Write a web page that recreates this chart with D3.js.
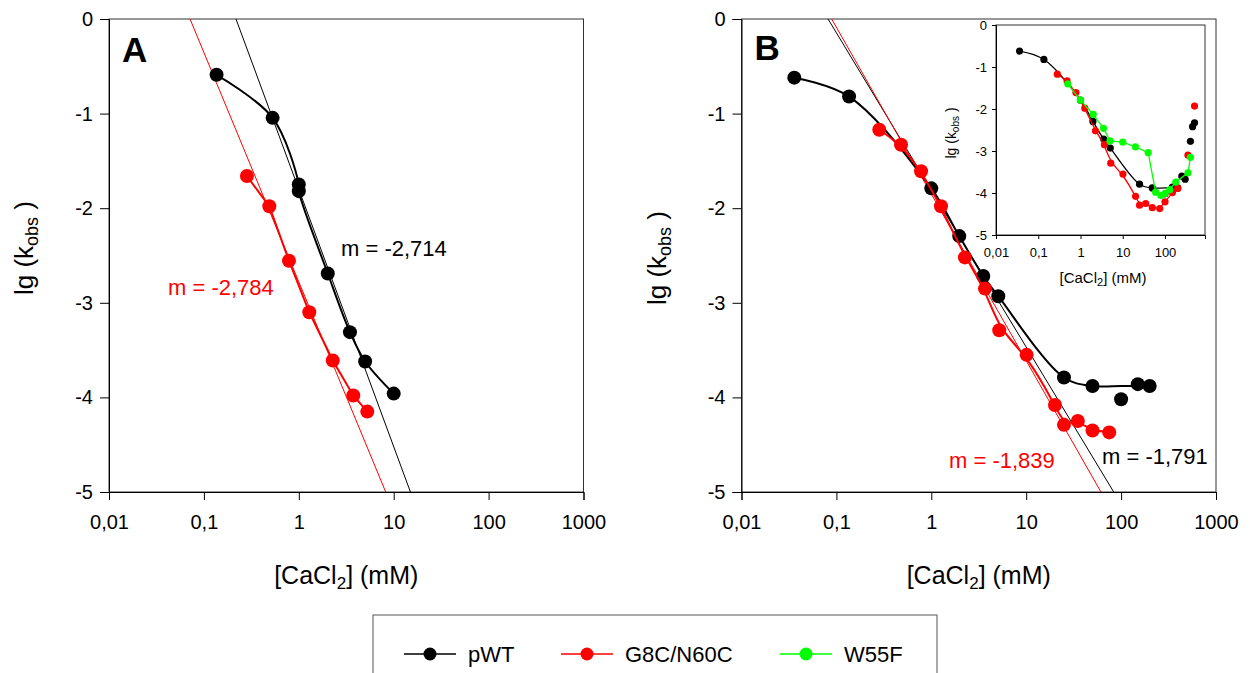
<!DOCTYPE html>
<html>
<head>
<meta charset="utf-8">
<script src="https://cdn.jsdelivr.net/npm/d3@7"></script>
<style>
    body { margin: 0; background: #fff; }
    svg { font-family: "Liberation Sans", Arial, sans-serif; }
</style>
</head>
<body>
<svg id="fig" width="1250" height="673"></svg>
<script>
// valores (lg kobs frente a [CaCl2] en mM)

const xTicks = [0.01, 0.1, 1, 10, 100, 1000];
const yTicks = [0, -1, -2, -3, -4, -5];
const insetXTicks = [0.01, 0.1, 1, 10, 100];

const seriesNames = ["pWT", "G8C/N60C", "W55F"];
const seriesColors = ["#000000", "#ff0000", "#00ff00"];

// panel A
const concA_pWT = [0.136, 0.53, 1.0, 1.0, 2.02, 3.46, 5.0, 10];
const lgA_pWT = [-0.59, -1.045, -1.75, -1.82, -2.69, -3.31, -3.62, -3.96];
const concA_G8C = [0.284, 0.489, 0.788, 1.29, 2.28, 3.75, 5.27];
const lgA_G8C = [-1.66, -1.98, -2.555, -3.10, -3.61, -3.98, -4.15];

// panel B
const concB_pWT = [0.036, 0.136, 1.0, 1.97, 3.53, 5.08, 25, 50, 100, 150, 200];
const lgB_pWT = [-0.62, -0.82, -1.79, -2.295, -2.716, -2.93, -3.79, -3.88, -4.02, -3.86, -3.88];
const concB_G8C = [0.283, 0.48, 0.78, 1.265, 2.26, 3.68, 5.2, 10.1, 20.1, 25, 35, 50, 75];
const lgB_G8C = [-1.17, -1.33, -1.61, -1.98, -2.52, -2.85, -3.29, -3.55, -4.08, -4.29, -4.25, -4.35, -4.37];

// recuadro: todos los puntos
const concIn_pWT = [0.036, 0.136, 1.0, 1.97, 3.53, 5.08, 25, 50, 100, 150, 200, 250, 300, 400, 450, 500];
const lgIn_pWT = [-0.62, -0.82, -1.79, -2.295, -2.716, -2.93, -3.79, -3.88, -4.02, -3.86, -3.88, -3.60, -3.67, -2.77, -2.42, -2.33];
const concIn_G8C = [0.283, 0.48, 0.78, 1.265, 2.26, 3.68, 5.2, 10.1, 20.1, 25, 35, 50, 75, 100, 150, 200, 350, 500];
const lgIn_G8C = [-1.17, -1.33, -1.61, -1.98, -2.52, -2.85, -3.29, -3.55, -4.08, -4.29, -4.25, -4.35, -4.37, -4.21, -3.99, -3.89, -3.10, -1.93];
const concIn_W55F = [0.5, 1, 2, 3.5, 5, 10, 20, 40, 60, 80, 100, 130, 180, 350, 400];
const lgIn_W55F = [-1.40, -1.79, -2.13, -2.46, -2.76, -2.79, -2.90, -3.04, -3.98, -4.06, -4.01, -3.92, -3.74, -3.52, -3.15];
// hasta donde llega la curva suavizada del recuadro
const insetCurveMax = 200;

// rectas de ajuste: [pendiente, ordenada] en lg-lg
const fitA_pWT = [-2.72, -1.80];
const fitA_G8C = [-2.425, -2.779];
const fitB_pWT = [-1.661, -1.807];
const fitB_G8C = [-1.762, -1.850];
const slopeLabels = ["m = -2,714", "m = -2,784", "m = -1,791", "m = -1,839"];

const svg = d3.select("#fig");
const fmt = d => String(d).replace(".", ",");
const zip = (xs, ys) => xs.map((v, i) => ({ c: v, lg: ys[i] }));

// mediana movil de 3 puntos (para la curva suavizada de pWT)
function median3(data) {
    return data.map((d, i) => {
        if (i == 0 || i == data.length - 1) return d;
        return { c: d.c, lg: d3.median([data[i - 1].lg, d.lg, data[i + 1].lg]) };
    });
}

// texto con subindices: partes [texto, esSub]
function richText(sel, parts, subSize) {
    parts.forEach(([t, sub]) => {
        let ts = sel.append("tspan").text(t);
        if (sub) ts.attr("font-size", subSize).attr("baseline-shift", "-28%");
    });
    return sel;
}

function panel(left, right, letter, ylabelPos, lines, fits, labels) {
    let x = d3.scaleLog().domain([0.01, 1000]).range([left, right]);
    let y = d3.scaleLinear().domain([-5, 0]).range([492, 19]);
    let g = svg.append("g");

    // marco
    g.append("rect")
        .attr("x", left).attr("y", 19)
        .attr("width", right - left).attr("height", 473)
        .attr("fill", "none").attr("stroke", "#333").attr("stroke-width", 1);

    let ax = g.append("g").attr("transform", "translate(0,492)")
        .call(d3.axisBottom(x).tickValues(xTicks).tickFormat(fmt).tickSize(8).tickPadding(15));
    let ay = g.append("g").attr("transform", `translate(${left},0)`)
        .call(d3.axisLeft(y).tickValues(yTicks).tickFormat(d => d).tickSize(9).tickPadding(7));
    [ax, ay].forEach(a => {
        a.select(".domain").attr("stroke", "#000");
        a.selectAll("text").attr("font-size", 20).attr("fill", "#000");
    });

    richText(g.append("text")
        .attr("x", (left + right) / 2).attr("y", 584)
        .attr("text-anchor", "middle").attr("font-size", 25),
        [["[CaCl", 0], ["2", 1], ["] (mM)", 0]], 17);
    richText(g.append("text")
        .attr("transform", `translate(${ylabelPos[0]},${ylabelPos[1]}) rotate(-90)`)
        .attr("text-anchor", "middle").attr("font-size", 26),
        [["lg (k", 0], ["obs", 1], ["  )", 0]], 18);

    g.append("text").attr("x", left + 13).attr("y", letter[1])
        .attr("font-size", 35).attr("font-weight", "bold").text(letter[0]);

    // rectas de ajuste, de y=0 a y=-5
    fits.forEach(([m, b], i) => {
        let p = [0, -5].map(v => ({ c: Math.pow(10, (v - b) / m), lg: v }));
        g.append("line")
            .attr("x1", x(p[0].c)).attr("y1", y(p[0].lg))
            .attr("x2", x(p[1].c)).attr("y2", y(p[1].lg))
            .attr("stroke", seriesColors[i]).attr("stroke-width", 1);
    });

    // curvas y puntos
    lines.forEach(s => {
        g.append("path").datum(s.smooth ? s.smooth(s.data) : s.data)
            .attr("d", d3.line().x(d => x(d.c)).y(d => y(d.lg)).curve(s.curve))
            .attr("fill", "none").attr("stroke", s.color).attr("stroke-width", 2);
        g.selectAll(null).data(s.data).enter().append("circle")
            .attr("cx", d => x(d.c)).attr("cy", d => y(d.lg))
            .attr("r", 7).attr("fill", s.color);
    });

    labels.forEach(l => {
        g.append("text").attr("x", l.x).attr("y", l.y)
            .attr("font-size", 22).attr("fill", l.color).text(l.text);
    });
}

panel(109, 583.5, ["A", 62], [33, 248],
    [{ data: zip(concA_pWT, lgA_pWT), color: seriesColors[0], curve: d3.curveCatmullRom },
     { data: zip(concA_G8C, lgA_G8C), color: seriesColors[1], curve: d3.curveLinear }],
    [fitA_pWT, fitA_G8C],
    [{ x: 341, y: 256, color: seriesColors[0], text: slopeLabels[0] },
     { x: 168, y: 295, color: seriesColors[1], text: slopeLabels[1] }]);

panel(741.5, 1216, ["B", 60], [666, 258],
    [{ data: zip(concB_pWT, lgB_pWT), color: seriesColors[0], curve: d3.curveCatmullRom, smooth: median3 },
     { data: zip(concB_G8C, lgB_G8C), color: seriesColors[1], curve: d3.curveBasis }],
    [fitB_pWT, fitB_G8C],
    [{ x: 1102, y: 464, color: seriesColors[0], text: slopeLabels[2] },
     { x: 949, y: 468, color: seriesColors[1], text: slopeLabels[3] }]);

// recuadro dentro del panel B
function inset() {
    let x = d3.scaleLog().domain([0.01, Math.pow(10, 2.947)]).range([996, 1205]);
    let y = d3.scaleLinear().domain([-5, 0]).range([235, 25]);
    let g = svg.append("g");

    g.append("rect").attr("x", 996).attr("y", 25).attr("width", 209).attr("height", 210)
        .attr("fill", "#fff").attr("stroke", "#333").attr("stroke-width", 1);
    let ax = g.append("g").attr("transform", "translate(0,235)")
        .call(d3.axisBottom(x).tickValues(insetXTicks).tickFormat(fmt).tickSize(4).tickPadding(9));
    let ay = g.append("g").attr("transform", "translate(996,0)")
        .call(d3.axisLeft(y).tickValues(yTicks).tickFormat(d => d).tickSize(4).tickPadding(5));
    [ax, ay].forEach(a => {
        a.select(".domain").attr("stroke", "#000");
        a.selectAll("text").attr("font-size", 13).attr("fill", "#000");
    });
    richText(g.append("text").attr("x", 1103).attr("y", 283)
        .attr("text-anchor", "middle").attr("font-size", 15),
        [["[CaCl", 0], ["2", 1], ["] (mM)", 0]], 11);
    richText(g.append("text").attr("transform", "translate(956,133) rotate(-90)")
        .attr("text-anchor", "middle").attr("font-size", 14),
        [["lg (k", 0], ["obs", 1], [" )", 0]], 10);

    let sets = [
        { data: zip(concIn_pWT, lgIn_pWT), color: seriesColors[0], curve: d3.curveCatmullRom, smooth: true, pre: median3 },
        { data: zip(concIn_G8C, lgIn_G8C), color: seriesColors[1], curve: d3.curveBasis, smooth: true },
        { data: zip(concIn_W55F, lgIn_W55F), color: seriesColors[2], curve: d3.curveLinear, smooth: false }
    ];
    sets.forEach(s => {
        let pts = s.smooth ? s.data.filter(d => d.c <= insetCurveMax) : s.data;
        if (s.pre) pts = s.pre(pts);
        g.append("path").datum(pts)
            .attr("d", d3.line().x(d => x(d.c)).y(d => y(d.lg)).curve(s.curve))
            .attr("fill", "none").attr("stroke", s.color).attr("stroke-width", 1.3);
        g.selectAll(null).data(s.data).enter().append("circle")
            .attr("cx", d => x(d.c)).attr("cy", d => y(d.lg))
            .attr("r", 3.6).attr("fill", s.color);
    });
}
inset();

// leyenda
let leg = svg.append("g");
leg.append("rect").attr("x", 373).attr("y", 615).attr("width", 564).attr("height", 80)
    .attr("fill", "#fff").attr("stroke", "#555").attr("stroke-width", 1);
let legX = d3.scalePoint().domain(seriesNames).range([404, 780]);
seriesNames.forEach((n, i) => {
    let x0 = legX(n) + (i == 1 ? -31 : 0);
    leg.append("line").attr("x1", x0).attr("x2", x0 + 52).attr("y1", 654).attr("y2", 654)
        .attr("stroke", seriesColors[i]).attr("stroke-width", 1.5);
    leg.append("circle").attr("cx", x0 + 26).attr("cy", 654).attr("r", 6.5).attr("fill", seriesColors[i]);
    leg.append("text").attr("x", x0 + 64).attr("y", 662).attr("font-size", 22).text(n);
});
</script>
</body>
</html>
